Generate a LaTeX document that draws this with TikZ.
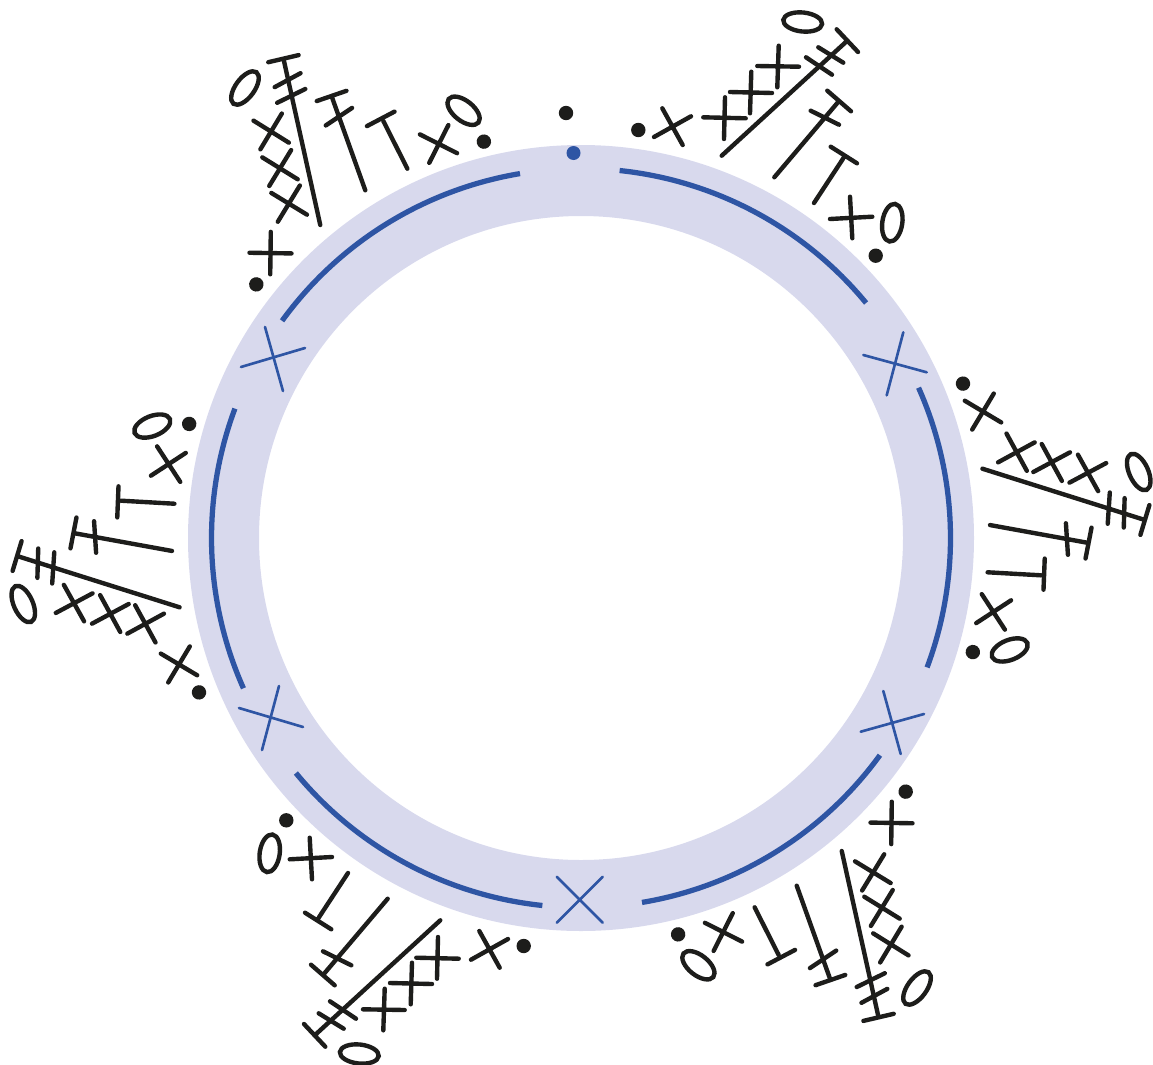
\documentclass[tikz,border=0pt]{standalone}
\definecolor{ringfill}{HTML}{D8D9ED}
\definecolor{chainblue}{HTML}{2E55A4}
\definecolor{stitchblack}{HTML}{1D1D1B}
\begin{document}
\begin{tikzpicture}[
		x=0.02cm, y=-0.02cm,
		stitch/.style={draw=stitchblack, line width=2.5pt, line cap=round},
		slipdot/.style={fill=stitchblack},
		chainline/.style={draw=chainblue, line width=3pt},
		bluecross/.style={draw=chainblue, line width=1.5pt, line cap=round}
		]
		\useasboundingbox (0,0) rectangle (1153,1065);
		\fill[ringfill, even odd rule] (581,538) circle[radius=393] (581,538) circle[radius=322];
		
		\foreach \a in {0,60,...,300}{
			\begin{scope}[rotate around={-\a:(581,538)}]
				\draw[chainline] ([shift={(-84:369.5)}]581,538) arc[start angle=-84, end angle=-39.5, radius=369.5];
				\fill[slipdot] (638.3,130) circle[radius=7.2];
				\fill[slipdot] (875.7,255.7) circle[radius=7.2];
				\draw[stitch] (654,137) -- (691,116.3) (662.3,108.3) -- (682.7,145);
				\draw[stitch] (703.3,117.3) -- (745.7,118.3) (725,97.3) -- (724,139);
				\draw[stitch] (730,92) -- (772,93) (751.3,71.7) -- (750,113.3);
				\draw[stitch] (757.3,66) -- (799,66.7) (778.7,45.7) -- (777.3,87.3);
				\draw[stitch] (721.7,155.7) -- (847.3,40.7) (836.7,29.3) -- (858,52);
				\draw[stitch] (818.3,47.3) -- (843.3,62.7) (806,57.3) -- (832,74.7);
				\draw[stitch] (774.3,177.3) -- (839,101) (827.3,90.7) -- (851,111.3) (810.7,110.7) -- (839,124.7);
				\draw[stitch] (814,203) -- (843.3,158.3) (830.7,146.7) -- (857,163.3);
				\draw[stitch] (830,219) -- (872.3,216.7) (850,196.7) -- (852.3,238.3);
				\draw[stitch, shift={(802.7,22)}, rotate=-6] (0,0) ellipse[x radius=19.5, y radius=9.5];
				\draw[stitch, shift={(892.3,222.7)}, rotate=81.5] (0,0) ellipse[x radius=19, y radius=10];
			\end{scope}
		}
		
		\draw[bluecross] (863.3,355) -- (926.7,372.3) (903.3,332.3) -- (886.7,395.3);
		\draw[bluecross] (860.7,731.7) -- (924,714) (883.3,691) -- (900.7,754);
		\draw[bluecross] (556.7,876.7) -- (602.7,922.7) (602.7,876.7) -- (556.7,922.7);
		\draw[bluecross] (239,708) -- (303,727) (279,686) -- (262,750);
		\draw[bluecross] (241,367) -- (305,348) (265,327) -- (283,391);
		
		\fill[slipdot] (566,113) circle[radius=7.2];
		\fill[chainblue] (573.5,153) circle[radius=7];
	\end{tikzpicture}
\end{document}
